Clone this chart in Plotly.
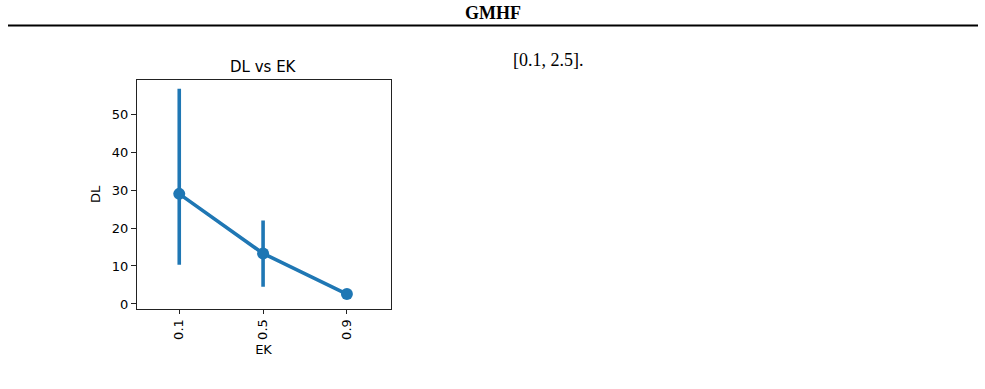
import plotly.graph_objects as go

categories = ["0.1", "0.5", "0.9"]
dl_mean = [29.0, 13.3, 2.6]
dl_err_hi = [56.7, 22.0, 3.3]
dl_err_lo = [10.3, 4.5, 2.0]
y_ticks = [0, 10, 20, 30, 40, 50]

W, H = 985, 389
blue = "#1f77b4"

fig = go.Figure()
fig.add_trace(go.Scatter(
    x=categories, y=dl_mean,
    mode="lines+markers",
    line=dict(color=blue, width=3.6),
    marker=dict(color=blue, size=12, line=dict(width=0)),
    error_y=dict(
        type="data", symmetric=False,
        array=[h - m for h, m in zip(dl_err_hi, dl_mean)],
        arrayminus=[m - l for m, l in zip(dl_mean, dl_err_lo)],
        color=blue, thickness=3.6, width=0,
    ),
    showlegend=False,
))

def px_x(x):
    return x / W

def px_y(y):
    return 1 - y / H

fig.update_layout(
    template="none",
    width=W, height=H,
    margin=dict(l=0, r=0, t=0, b=0, pad=0),
    paper_bgcolor="white", plot_bgcolor="white",
    font=dict(family="DejaVu Sans", size=13, color="black"),
    xaxis=dict(
        domain=[px_x(136.5), px_x(390.5)],
        type="category", range=[-0.51, 2.52], automargin=False,
        tickangle=-90, ticks="outside", ticklen=4.5, tickcolor="#222",
        tickfont=dict(size=13),
        showline=True, mirror=True, linecolor="#222", linewidth=1,
        showgrid=False, zeroline=False,
        title=dict(text="EK", standoff=6, font=dict(size=13)),
    ),
    yaxis=dict(
        domain=[px_y(308.5), px_y(80)],
        range=[-1.2, 59.0], tickvals=y_ticks, automargin=False,
        ticks="outside", ticklen=4.5, tickcolor="#222",
        tickfont=dict(size=13),
        showline=True, mirror=True, linecolor="#222", linewidth=1,
        showgrid=False, zeroline=False,
        title=dict(text="DL", standoff=8, font=dict(size=13)),
    ),
)

# subplot title
fig.add_annotation(
    text="DL vs EK", x=(px_x(136.5) + px_x(390.5)) / 2, y=px_y(67),
    xref="paper", yref="paper", showarrow=False,
    font=dict(family="DejaVu Sans", size=15, color="black"),
    xanchor="center", yanchor="middle",
)

# page header
fig.add_annotation(
    text="<b>GMHF</b>", x=px_x(493), y=px_y(13),
    xref="paper", yref="paper", showarrow=False,
    font=dict(family="Liberation Serif", size=18, color="black"),
    xanchor="center", yanchor="middle",
)
fig.add_shape(
    type="line", xref="paper", yref="paper",
    x0=px_x(8), x1=px_x(978), y0=px_y(25.5), y1=px_y(25.5),
    line=dict(color="black", width=2),
)
fig.add_annotation(
    text="[0.1, 2.5].", x=px_x(511), y=px_y(60),
    xref="paper", yref="paper", showarrow=False,
    font=dict(family="Liberation Serif", size=18, color="black"),
    xanchor="left", yanchor="middle",
)

fig.write_html("out.html")
